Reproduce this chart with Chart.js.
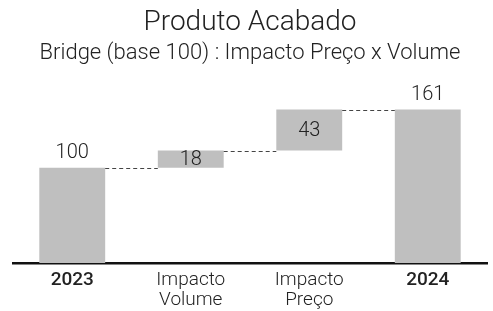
<!DOCTYPE html>
<html>
<head>
<meta charset="utf-8">
<script src="https://cdn.jsdelivr.net/npm/chart.js@4"></script>
<style>
html,body{margin:0;padding:0;background:#fff;}
#wrap{width:493px;height:311px;}
</style>
</head>
<body>
<div id="wrap"><canvas id="c" width="493" height="311"></canvas></div>
<script>
const categories = [['2023'], ['Impacto','Volume'], ['Impacto','Preço'], ['2024']];
const startValues = [0, 100, 118, 0];
const endValues = [100, 118, 161, 161];
const labelValues = [100, 18, 43, 161];
const isTotal = [true, false, false, true];

const FONT = 'Roboto';
const barColor = '#bfbfbf';

const bridgeData = startValues.map((s, i) => [s, endValues[i]]);

const connectorPlugin = {
  id: 'connectors',
  afterDatasetsDraw(chart) {
    const ctx = chart.ctx;
    const meta = chart.getDatasetMeta(0);
    const y = chart.scales.y;
    ctx.save();
    ctx.strokeStyle = '#444';
    ctx.lineWidth = 1;
    ctx.setLineDash([4, 3]);
    for (let i = 0; i < meta.data.length - 1; i++) {
      const a = meta.data[i], b = meta.data[i + 1];
      const yy = Math.round(y.getPixelForValue(endValues[i])) + 0.5;
      ctx.beginPath();
      ctx.moveTo(a.x + a.width / 2, yy);
      ctx.lineTo(b.x - b.width / 2, yy);
      ctx.stroke();
    }
    ctx.restore();
  }
};

const labelPlugin = {
  id: 'valueLabels',
  afterDatasetsDraw(chart) {
    const ctx = chart.ctx;
    const meta = chart.getDatasetMeta(0);
    const y = chart.scales.y;
    ctx.save();
    ctx.font = '300 20px ' + FONT;
    ctx.fillStyle = '#222';
    ctx.textAlign = 'center';
    meta.data.forEach((bar, i) => {
      if (isTotal[i]) {
        ctx.textBaseline = 'alphabetic';
        ctx.fillText(String(labelValues[i]), bar.x, y.getPixelForValue(endValues[i]) - 10);
      } else {
        ctx.textBaseline = 'middle';
        const ym = (y.getPixelForValue(startValues[i]) + y.getPixelForValue(endValues[i])) / 2;
        ctx.fillText(String(labelValues[i]), bar.x, ym + 1);
      }
    });
    ctx.restore();
  }
};

new Chart(document.getElementById('c'), {
  type: 'bar',
  data: {
    labels: categories,
    datasets: [{
      data: bridgeData,
      backgroundColor: barColor,
      borderWidth: 0,
      categoryPercentage: 1,
      barPercentage: 0.556
    }]
  },
  options: {
    responsive: false,
    animation: false,
    devicePixelRatio: 1,
    layout: { padding: { left: 13, right: 6, top: 0, bottom: -6 } },
    plugins: {
      legend: { display: false },
      tooltip: { enabled: false },
      title: {
        display: true,
        text: 'Produto Acabado',
        color: '#222',
        font: { family: FONT, size: 28, weight: '300', lineHeight: 1.2 },
        padding: { top: 6.5, bottom: 0 }
      },
      subtitle: {
        display: true,
        text: 'Bridge (base 100) : Impacto Preço x Volume',
        color: '#222',
        font: { family: FONT, size: 22, weight: '300', lineHeight: 1.2 },
        padding: { top: 0, bottom: 10 }
      }
    },
    scales: {
      x: {
        grid: { display: false, drawTicks: false },
        border: { display: true, color: '#111', width: 2.5 },
        ticks: {
          padding: 7,
          color: '#222',
          font: (c) => ({ family: FONT, size: 19, weight: isTotal[c.index] ? '500' : '300', lineHeight: 1.05 })
        }
      },
      y: {
        display: false,
        min: 0,
        max: 195.6
      }
    }
  },
  plugins: [connectorPlugin, labelPlugin]
});
</script>
</body>
</html>
